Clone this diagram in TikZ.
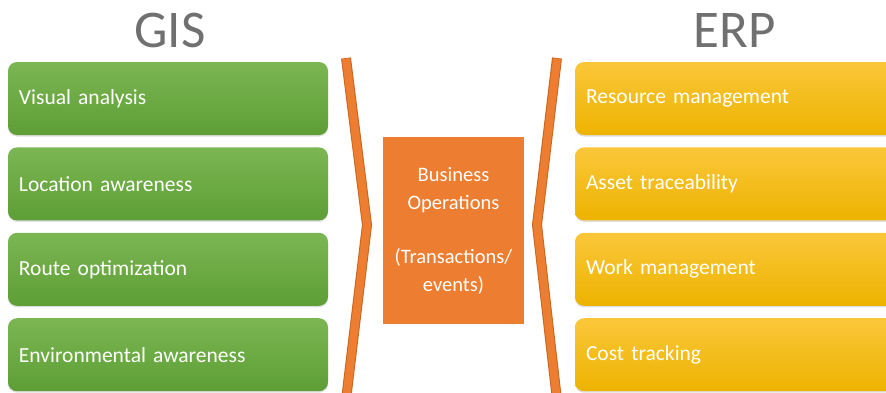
\documentclass[tikz,border=0pt]{standalone}
\usepackage{fontspec}
\setmainfont{Carlito}
\usetikzlibrary{positioning,shadows}
\definecolor{greentop}{HTML}{7BB652}
\definecolor{greenbot}{HTML}{5E9E36}
\definecolor{yellowtop}{HTML}{FAC73A}
\definecolor{yellowbot}{HTML}{EDB300}
\definecolor{opsorange}{HTML}{ED7D31}
\definecolor{opsdark}{HTML}{C9651F}
\definecolor{titlegray}{HTML}{707070}

\tikzset{
  item/.style={rounded corners=9pt, minimum width=320pt, minimum height=73pt,
    inner xsep=11pt, text width=298pt, align=left, text=white,
    font=\fontsize{21.5}{24}\selectfont,
    drop shadow={shadow xshift=0pt, shadow yshift=-1.5pt, opacity=0.25}},
  gisitem/.style={item, top color=greentop, bottom color=greenbot},
  erpitem/.style={item, top color=yellowtop, bottom color=yellowbot},
  title/.style={text=titlegray, font=\fontsize{53}{56}\selectfont},
  chevron/.style={line join=miter, line cap=butt}
}

\begin{document}
\begin{tikzpicture}[x=1pt, y=-1pt]
  % Sizes
  \pgfmathsetmacro{\gap}{12}
  \useasboundingbox (0,0) rectangle (886,392);

  % titles
  \node[title] (gis) at (170,30) {GIS};
  \node[title] (erp) at (735,30) {ERP};

  % GIS column
  \node[gisitem] (g1) at (168,98.5) {Visual analysis};
  \node[gisitem, below=\gap pt of g1] (g2) {Location awareness};
  \node[gisitem, below=\gap pt of g2] (g3) {Route optimization};
  \node[gisitem, below=\gap pt of g3] (g4) {Environmental awareness};

  % ERP column
  \node[erpitem] (e1) at (735,98.5) {Resource management};
  \node[erpitem, below=\gap pt of e1] (e2) {Asset traceability};
  \node[erpitem, below=\gap pt of e2] (e3) {Work management};
  \node[erpitem, below=\gap pt of e3] (e4) {Cost tracking};

  % middle block
  \node[fill=opsorange, minimum width=141pt, minimum height=187pt,
    align=center, text=white, font=\fontsize{20.5}{28}\selectfont]
    (ops) at (453.5,230.5)
    {Business\\Operations\\[26pt](Transactions/\\events)};

  % chevrons
  \draw[chevron, line width=10pt, opsdark] (346,58) -- (367,225) -- (346,400);
  \draw[chevron, line width=8pt, opsorange] (346,58.6) -- (367,225) -- (346,400);
  \draw[chevron, line width=10pt, opsdark] (557,58) -- (537,225) -- (557,400);
  \draw[chevron, line width=8pt, opsorange] (557,58.6) -- (537,225) -- (557,400);
\end{tikzpicture}
\end{document}
